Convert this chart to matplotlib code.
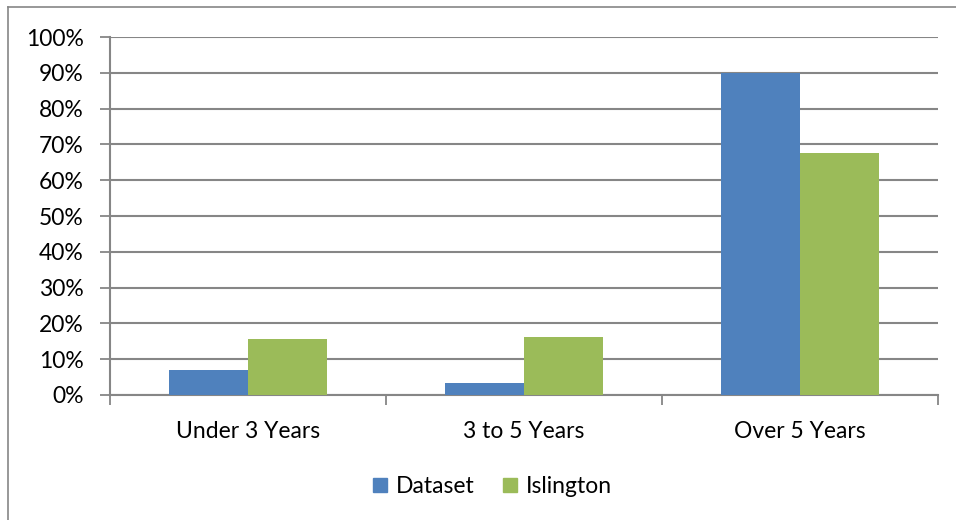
import matplotlib.pyplot as plt
import numpy as np
from matplotlib.lines import Line2D
from matplotlib.ticker import FuncFormatter

# Length of residence, share of respondents
categories = ['Under 3 Years', '3 to 5 Years', 'Over 5 Years']
dataset = [7.0, 3.4, 89.9]
islington = [15.7, 16.1, 67.5]

blue = '#4F81BD'
green = '#9BBB59'
grey = '#868686'

plt.rcParams['font.family'] = ['Lato', 'DejaVu Sans']

fig = plt.figure(figsize=(9.56, 5.2), dpi=100)
ax = fig.add_axes([0.1151, 0.2404, 0.8661, 0.6884])

x = np.arange(len(categories))
width = 0.286
ax.bar(x - width / 2, dataset, width, color=blue, label='Dataset', zorder=3)
ax.bar(x + width / 2, islington, width, color=green, label='Islington', zorder=3)

ax.set_xlim(-0.5, len(categories) - 0.5)
ax.set_ylim(0, 100)
ax.set_yticks(np.arange(0, 101, 10))
ax.yaxis.set_major_formatter(FuncFormatter(lambda v, _: f'{v:.0f}%'))
ax.grid(True, axis='y', color=grey, linewidth=1.5, zorder=0)

# category labels sit between the boundary ticks
ax.set_xticks(np.arange(-0.5, len(categories), 1.0))
ax.set_xticklabels([])
ax.set_xticks(x, minor=True)
ax.set_xticklabels(categories, minor=True)
ax.tick_params(axis='x', which='minor', length=0, pad=19, labelsize=16.5)
ax.tick_params(axis='x', which='major', length=7, width=1.3, color=grey)
ax.tick_params(axis='y', length=7, width=1.3, color=grey, labelsize=16.5, pad=12)

for side in ['top', 'right']:
    ax.spines[side].set_visible(False)
for side in ['left', 'bottom']:
    ax.spines[side].set_color(grey)
    ax.spines[side].set_linewidth(1.5)

handles = [Line2D([], [], marker='s', linestyle='none', markersize=10.5, color=blue),
           Line2D([], [], marker='s', linestyle='none', markersize=10.5, color=green)]
fig.legend(handles, ['Dataset', 'Islington'], loc='center', bbox_to_anchor=(0.5146, 0.065),
           ncol=2, frameon=False, fontsize=16.5, handlelength=0.7,
           handletextpad=0.35, columnspacing=1.2)

# chart area border
fig.add_artist(Line2D([8 / 956, 8 / 956], [0, 1 - 7 / 520], transform=fig.transFigure,
                      color=grey, linewidth=1.2))
fig.add_artist(Line2D([8 / 956, 1], [1 - 7 / 520, 1 - 7 / 520], transform=fig.transFigure,
                      color=grey, linewidth=1.2))

fig.savefig('out.png', dpi=100)
